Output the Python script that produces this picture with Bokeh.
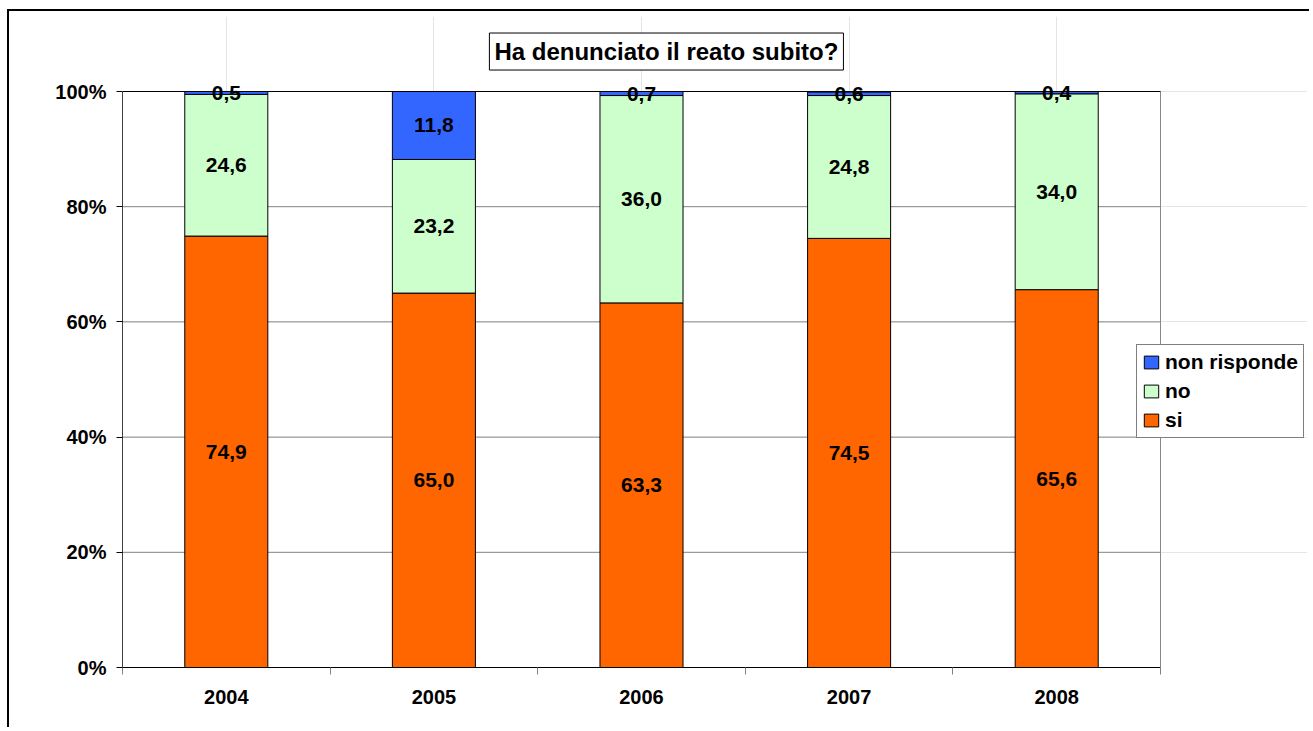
from bokeh.plotting import figure
from bokeh.models import (Range1d, LinearAxis, FixedTicker,
                          NumeralTickFormatter, ColumnDataSource, LabelSet, Label, Legend,
                          LegendItem)
from bokeh.core.properties import value
from bokeh.embed import file_html
from bokeh.resources import INLINE

# ---- data ----
years = ["2004", "2005", "2006", "2007", "2008"]
si = [74.9, 65.0, 63.3, 74.5, 65.6]
no = [24.6, 23.2, 36.0, 24.8, 34.0]
non_risponde = [0.5, 11.8, 0.7, 0.6, 0.4]
series_names = ["si", "no", "non risponde"]
series_colors = ["#FF6600", "#CCFFCC", "#3366FF"]
y_ticks = [0, 0.2, 0.4, 0.6, 0.8, 1.0]
title_text = "Ha denunciato il reato subito?"

FONT = "Liberation Sans"

# ---- layout (pixels) ----
W, H = 1302, 718
MB_LEFT, MB_RIGHT, MB_TOP, MB_BOTTOM = 113, 4, 5, 62
PLOT_W = 1038   # width of plot area holding the categories
PLOT_H = 576    # height of plot area holding 0..100%
frame_w = W - MB_LEFT - MB_RIGHT
frame_h = H - MB_TOP - MB_BOTTOM

n = len(years)
xpos = list(range(n))
x0, x1 = -0.5, n - 0.5
x_end = x0 + (x1 - x0) * frame_w / PLOT_W
y_end = 1.0 * frame_h / PLOT_H

series_values = [si, no, non_risponde]
data = {"x": xpos}
for name, vals in zip(series_names, series_values):
    data[name] = [v / 100 for v in vals]
src = ColumnDataSource(data)

p = figure(width=W, height=H,
           x_range=Range1d(x0, x_end),
           y_range=Range1d(0, y_end),
           output_backend="svg", toolbar_location=None, tools="",
           x_axis_location=None, y_axis_location=None,
           min_border_left=MB_LEFT, min_border_top=MB_TOP,
           min_border_right=MB_RIGHT, min_border_bottom=MB_BOTTOM)
p.styles = {"margin-left": "7px", "margin-top": "9px",
            "border-left": "2px solid black", "border-top": "2px solid black"}
p.outline_line_color = None
p.background_fill_color = "white"
p.border_fill_color = "white"

# gridlines (inside the plot area only)
gy = y_ticks[1:-1]
p.segment(x0=[x0] * len(gy), x1=[x1] * len(gy), y0=gy, y1=gy,
          line_color="#888888", line_width=1)
# plot-area right border
p.segment(x0=[x1], x1=[x1], y0=[y_ticks[0]], y1=[y_ticks[-1]],
          line_color="#888888", line_width=1)

# y axis
yaxis = LinearAxis(ticker=FixedTicker(ticks=y_ticks), bounds=(y_ticks[0], y_ticks[-1]),
                   formatter=NumeralTickFormatter(format="0%"),
                   axis_line_color="#404040", major_tick_line_color="black",
                   major_tick_out=6, major_tick_in=0, minor_tick_line_color=None,
                   major_label_standoff=10,
                   major_label_text_font=FONT, major_label_text_font_style="bold",
                   major_label_text_font_size="20px", major_label_text_color="black")
p.add_layout(yaxis, "left")

# x axis: labels at category centres, minor ticks at boundaries
xaxis = LinearAxis(ticker=FixedTicker(ticks=xpos,
                                      minor_ticks=[i - 0.5 for i in range(n + 1)]),
                   bounds=(x0, x1),
                   major_label_overrides={i: yr for i, yr in enumerate(years)},
                   axis_line_color="black",
                   major_tick_line_color=None, major_tick_out=7, major_tick_in=0,
                   minor_tick_line_color="#808080", minor_tick_out=7, minor_tick_in=0,
                   major_label_standoff=15,
                   major_label_text_font=FONT, major_label_text_font_style="bold",
                   major_label_text_font_size="20px", major_label_text_color="black")
p.add_layout(xaxis, "below")

# bars
renderers = p.vbar_stack(series_names, x="x", width=0.4, source=src,
                         fill_color=series_colors, line_color="black", line_width=1)

# top border line of plot area
p.segment(x0=[x0], x1=[x1], y0=[y_ticks[-1]], y1=[y_ticks[-1]],
          line_color="black", line_width=1)

# value labels
lx, ly, lt = [], [], []
for i in range(n):
    bottom = 0.0
    for vals in series_values:
        v = vals[i]
        lx.append(xpos[i])
        ly.append((bottom + v / 2) / 100)
        lt.append(f"{v:.1f}".replace(".", ","))
        bottom += v
lsrc = ColumnDataSource(dict(x=lx, y=ly, t=lt))
p.add_layout(LabelSet(x="x", y="y", text="t", source=lsrc,
                      text_align="center", text_baseline="middle",
                      text_font=value(FONT), text_font_style="bold",
                      text_font_size="21px", text_color="black"))

# legend
legend = Legend(items=[LegendItem(label=series_names[2], renderers=[renderers[2]]),
                       LegendItem(label=series_names[1], renderers=[renderers[1]]),
                       LegendItem(label=series_names[0], renderers=[renderers[0]])],
                location=(1014, 229), margin=0, padding=5, spacing=5,
                glyph_width=18, glyph_height=16, label_standoff=5, label_height=20,
                label_text_font=FONT, label_text_font_style="bold",
                label_text_font_size="21px", label_text_color="black",
                border_line_color="black", border_line_width=1,
                background_fill_color="white", background_fill_alpha=1)
p.add_layout(legend, "center")

# title box
p.add_layout(Label(x=2.12, y=1.0694, text=title_text,
                   text_align="center", text_baseline="middle",
                   text_font=FONT, text_font_style="bold", text_font_size="24px",
                   text_color="black", padding=5,
                   border_line_color="black", border_line_width=1,
                   background_fill_color="white"))

open("out.html", "w").write(file_html(p, INLINE))
